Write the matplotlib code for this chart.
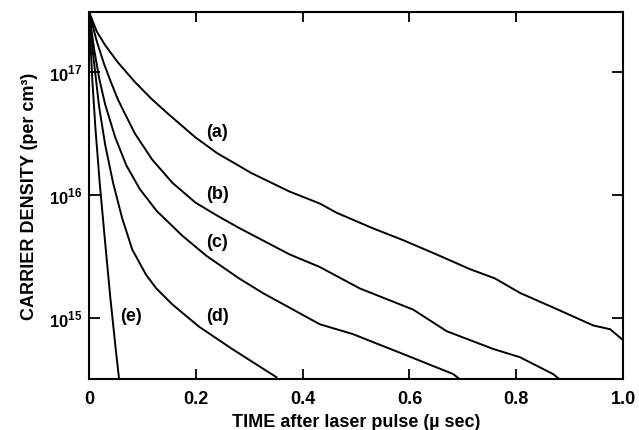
import numpy as np
import matplotlib
matplotlib.use('Agg')
import matplotlib.pyplot as plt
from matplotlib.ticker import FixedLocator, NullLocator

plt.rcParams['font.family'] = ['Liberation Sans', 'DejaVu Sans']
plt.rcParams['font.weight'] = 'bold'
plt.rcParams['mathtext.fontset'] = 'custom'
plt.rcParams['mathtext.rm'] = 'Liberation Sans:bold'
plt.rcParams['mathtext.bf'] = 'Liberation Sans:bold'

# time after laser pulse (micro sec) and carrier density (per cm^3)
t_a = [0, 0.0145, 0.030, 0.054, 0.086, 0.118, 0.150, 0.199, 0.240, 0.304, 0.375, 0.433,
       0.463, 0.530, 0.588, 0.650, 0.713, 0.760, 0.807, 0.882, 0.944, 0.976, 1.0]
n_a = [3.09e17, 2.14e17, 1.66e17, 1.2e17, 8.3e16, 6.0e16, 4.5e16, 2.95e16, 2.19e16,
       1.51e16, 1.07e16, 8.5e15, 7.2e15, 5.4e15, 4.3e15, 3.3e15, 2.5e15, 2.1e15, 1.6e15,
       1.15e15, 8.7e14, 8.1e14, 6.6e14]

t_b = [0, 0.0145, 0.028, 0.041, 0.054, 0.066, 0.086, 0.118, 0.156, 0.199, 0.240, 0.281,
       0.375, 0.432, 0.507, 0.560, 0.607, 0.670, 0.757, 0.807, 0.869, 0.882, 0.92]
n_b = [3.09e17, 1.78e17, 1.17e17, 8.3e16, 6.0e16, 4.7e16, 3.16e16, 1.95e16, 1.26e16,
       8.7e15, 6.8e15, 5.4e15, 3.3e15, 2.6e15, 1.74e15, 1.41e15, 1.17e15, 7.8e14, 5.6e14,
       4.8e14, 3.5e14, 3.16e14, 3.1e14]

t_c = [0, 0.0094, 0.019, 0.030, 0.049, 0.070, 0.095, 0.127, 0.174, 0.220, 0.281, 0.325,
       0.432, 0.494, 0.588, 0.682, 0.695, 0.72]
n_c = [3.09e17, 1.55e17, 8.9e16, 5.5e16, 2.95e16, 1.74e16, 1.12e16, 7.4e15, 4.7e15,
       3.2e15, 2.1e15, 1.6e15, 8.9e14, 7.4e14, 5.1e14, 3.5e14, 3.16e14, 3.1e14]

t_d = [0, 0.008, 0.019, 0.030, 0.045, 0.062, 0.081, 0.107, 0.126, 0.156, 0.206, 0.268,
       0.351]
n_d = [3.09e17, 1.35e17, 5.2e16, 2.6e16, 1.26e16, 6.5e15, 3.6e15, 2.24e15, 1.74e15,
       1.29e15, 8.5e14, 5.6e14, 3.3e14]

t_e = [0, 0.006, 0.012, 0.020, 0.030, 0.040, 0.050, 0.057]
n_e = [3.09e17, 8.9e16, 3.5e16, 1.26e16, 4.2e15, 1.45e15, 5.6e14, 3.0e14]

x_ticks = [0, 0.2, 0.4, 0.6, 0.8, 1.0]
x_tick_labels = ['0', '0.2', '0.4', '0.6', '0.8', '1.0']
y_ticks = [1e15, 1e16, 1e17]
y_tick_labels = ['$10^{15}$', '$10^{16}$', '$10^{17}$']

fig = plt.figure(figsize=(6.39, 4.31), dpi=100)
ax = fig.add_axes([0.1393, 0.1183, 0.8357, 0.8515])

for t, n in [(t_a, n_a), (t_b, n_b), (t_c, n_c), (t_d, n_d), (t_e, n_e)]:
    ax.plot(t, n, color='black', linewidth=1.4)

ax.set_yscale('log')
ax.set_xlim(0, 1.0)
ax.set_ylim(3.19e14, 3.08e17)

ax.xaxis.set_major_locator(FixedLocator(x_ticks))
ax.set_xticklabels(x_tick_labels)
ax.yaxis.set_major_locator(FixedLocator(y_ticks))
ax.set_yticklabels(y_tick_labels)
ax.yaxis.set_minor_locator(NullLocator())

ax.tick_params(axis='x', direction='in', length=7, width=1.3, top=True,
               labelsize=13, pad=8)
ax.tick_params(axis='y', direction='in', length=8, width=1.3, right=True,
               labelsize=12, pad=5)
for s in ax.spines.values():
    s.set_linewidth(1.5)

ax.text(0.24, 10 ** 16.52, '(a)', fontsize=13, fontweight='bold', ha='center', va='center')
ax.text(0.24, 10 ** 16.01, '(b)', fontsize=13, fontweight='bold', ha='center', va='center')
ax.text(0.24, 10 ** 15.62, '(c)', fontsize=13, fontweight='bold', ha='center', va='center')
ax.text(0.24, 10 ** 15.02, '(d)', fontsize=13, fontweight='bold', ha='center', va='center')
ax.text(0.078, 10 ** 15.02, '(e)', fontsize=13, fontweight='bold', ha='center', va='center')

ax.set_xlabel('TIME after laser pulse (\u00b5 sec)', fontsize=13, fontweight='bold', labelpad=4)
ax.set_ylabel('CARRIER DENSITY (per cm\u00b3)', fontsize=13, fontweight='bold', labelpad=8)

fig.savefig('out.png', dpi=100)
